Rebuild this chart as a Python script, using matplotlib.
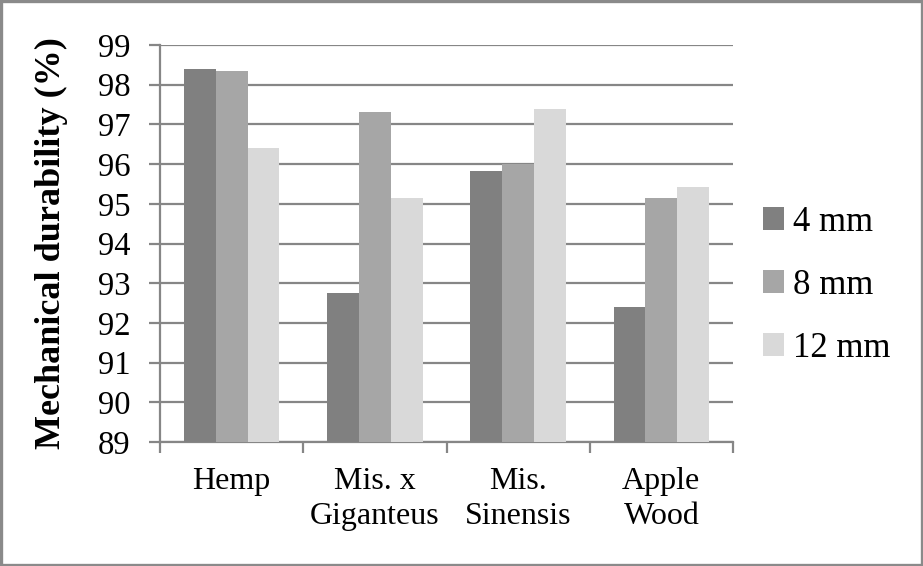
import matplotlib
matplotlib.use("Agg")
import matplotlib.pyplot as plt
import numpy as np
from matplotlib.patches import Rectangle

categories = ["Hemp", "Mis. x\nGiganteus", "Mis.\nSinensis", "Apple\nWood"]
series_names = ["4 mm", "8 mm", "12 mm"]
vals_4mm = [98.40, 92.76, 95.83, 92.41]
vals_8mm = [98.35, 97.30, 96.00, 95.14]
vals_12mm = [96.40, 95.14, 97.38, 95.42]
colors = ["#808080", "#a6a6a6", "#d9d9d9"]
yticks = [89, 90, 91, 92, 93, 94, 95, 96, 97, 98, 99]

plt.rcParams['font.family'] = ['Liberation Serif', 'DejaVu Serif']

fig = plt.figure(figsize=(9.23, 5.66), dpi=100)
ax = fig.add_axes([160/923, 1-442/566, (733-160)/923, (442-45)/566])

x = np.arange(len(categories))
w = 1/4.5
series = [vals_4mm, vals_8mm, vals_12mm]
for i, (vals, c, name) in enumerate(zip(series, colors, series_names)):
    ax.bar(x + (i-1)*w, np.array(vals) - 89, width=w, bottom=89, color=c,
           label=name, zorder=3)

ax.set_ylim(89, 99)
ax.set_xlim(-0.5, len(categories)-0.5)
ax.set_yticks(yticks)
ax.set_yticklabels([str(t) for t in yticks], fontsize=23.5)
ax.yaxis.grid(True, color="#868686", linewidth=1.6, zorder=0)
ax.set_axisbelow(True)

ax.set_xticks(x)
ax.set_xticklabels(categories, fontsize=23, linespacing=1.27)
ax.tick_params(axis='x', length=0, pad=18)
ax.set_xticks(np.arange(len(categories)+1) - 0.5, minor=True)
ax.tick_params(axis='x', which='minor', length=8, width=1.6, color="#868686")
ax.tick_params(axis='y', length=8, width=1.6, color="#868686", pad=13)

for s in ['top', 'right']:
    ax.spines[s].set_visible(False)
for s in ['left', 'bottom']:
    ax.spines[s].set_color("#868686")
    ax.spines[s].set_linewidth(1.6)

ax.set_ylabel("Mechanical durability (%)", fontsize=26, fontweight='bold', labelpad=22)

leg = ax.legend(loc='center left', bbox_to_anchor=(0.997, 0.395), frameon=False,
                fontsize=25, handlelength=0.62, handleheight=0.62,
                handletextpad=0.25, labelspacing=0.86)

fig.patches.append(Rectangle((0.0015, 0.0025), 0.997, 0.995, transform=fig.transFigure,
                             fill=False, edgecolor="#8a8a8a", linewidth=2.4))

fig.savefig("out.png", dpi=100, facecolor="white")
